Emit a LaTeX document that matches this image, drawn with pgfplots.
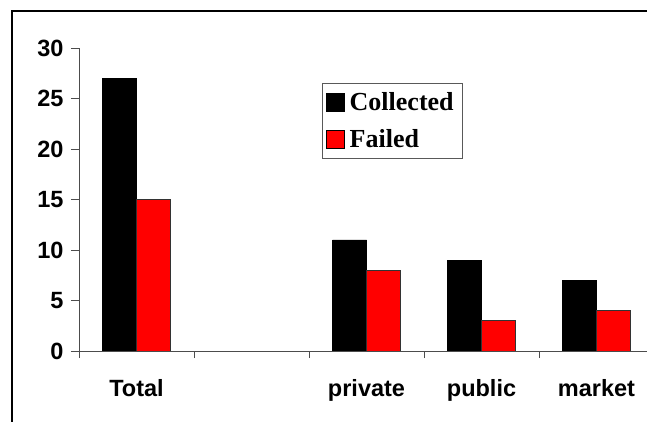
\documentclass[border=0pt]{standalone}
\usepackage{fontspec}
\setmainfont{Liberation Serif}
\newfontfamily\arialfont{Liberation Sans}
\usepackage{pgfplots}
\pgfplotsset{compat=1.18}
\begin{document}
\begin{tikzpicture}
\useasboundingbox (-79pt,-71pt) rectangle (568pt,351pt);
\draw[line width=1.6pt] (-67pt,-80pt) -- (-67pt,340pt) -- (580pt,340pt);
\begin{axis}[at={(0,0)}, anchor=south west, scale only axis, width=568pt, height=303pt,
 ybar=0pt, bar width=34pt,
 xmin=-0.5, xmax=4.4391, ymin=0, ymax=30,
 axis x line=bottom, axis y line=left,
 axis line style={-, draw=gray!60!black, line width=0.8pt},
 xtick={0,...,4}, xticklabels={Total,,private,public,market},
 major x tick style={draw=none},
 minor xtick={-0.5,0.5,1.5,2.5,3.5},
 ytick={0,5,...,30},
 tick align=outside, major tick length=8pt, minor tick length=7pt,
 tick style={draw=gray!60!black, line width=0.8pt},
 /pgf/number format/assume math mode=true,
 ticklabel style={font=\arialfont\bfseries\fontsize{23.5}{26}\selectfont},
 xticklabel style={yshift=-17pt},
 yticklabel style={xshift=-4pt},
 legend style={at={(rel axis cs:0.428,0.884)}, anchor=north west, draw=gray!70!black,
   font=\bfseries\fontsize{26}{29}\selectfont, inner xsep=4pt, inner ysep=7pt,
   row sep=14pt, nodes={inner xsep=5pt}},
 legend cell align=left,
 legend image code/.code={\draw[#1, draw=black] (0pt,-9pt) rectangle (18pt,9pt);},
]
\addplot[fill=black, draw=black] coordinates {(0,27) (2,11) (3,9) (4,7)};
\addplot[fill=red, draw=black!80] coordinates {(0,15) (2,8) (3,3) (4,4)};
\legend{Collected,Failed}
\end{axis}
\end{tikzpicture}
\end{document}
